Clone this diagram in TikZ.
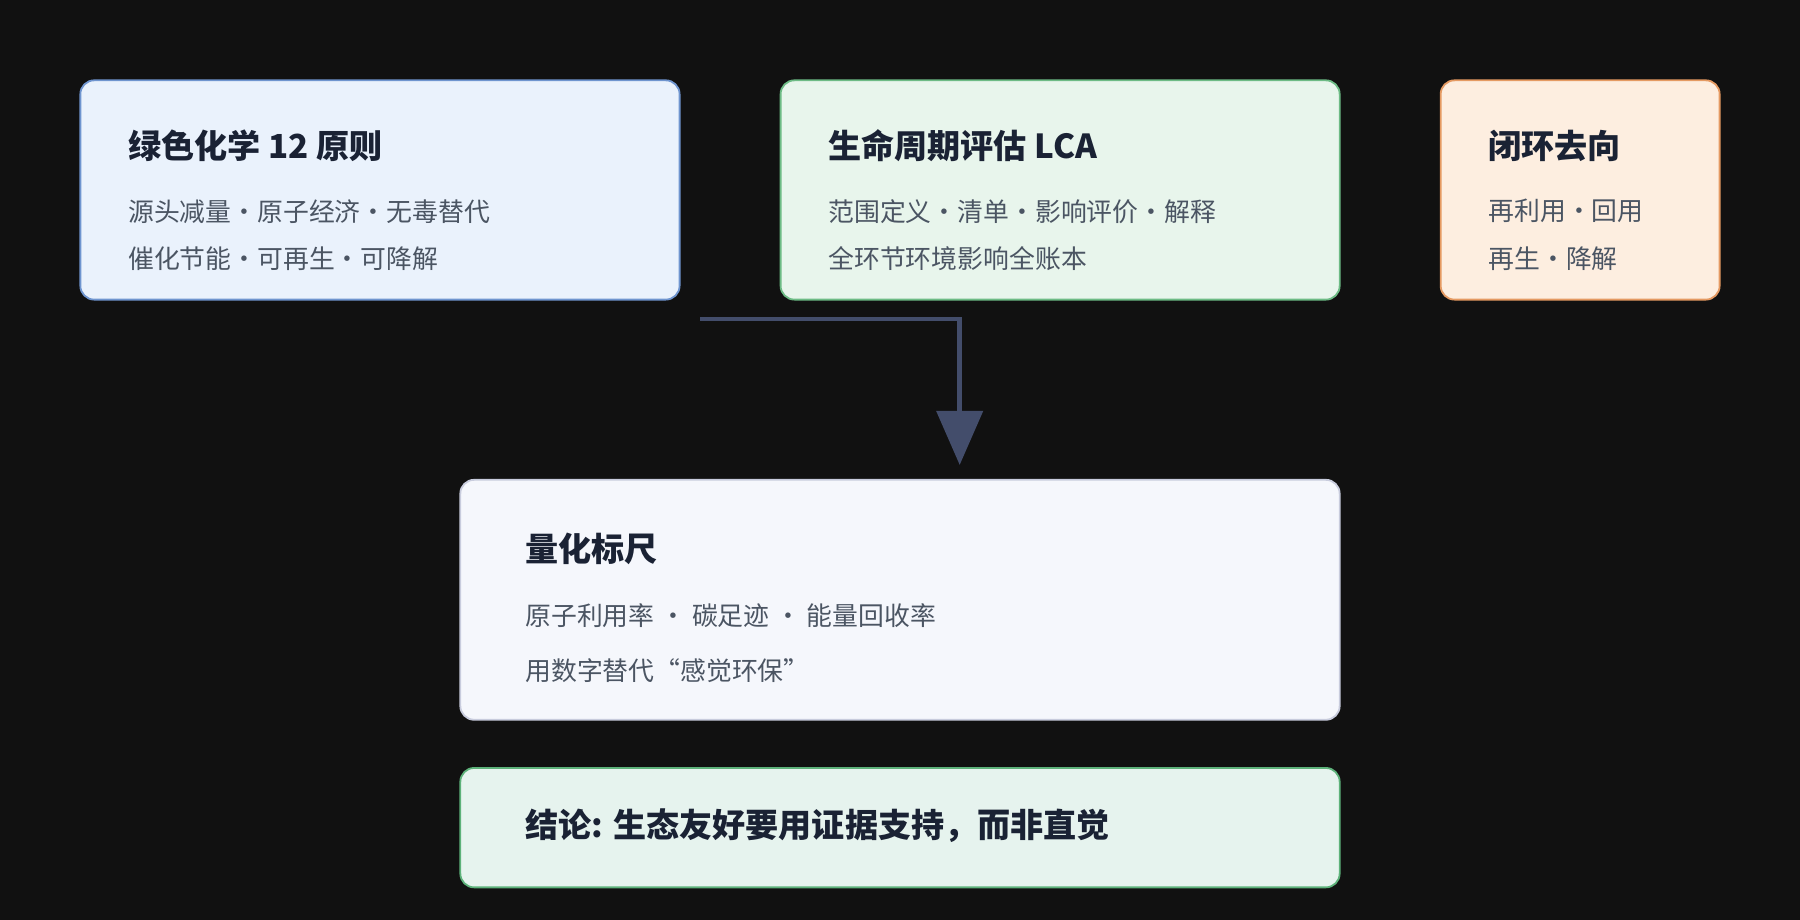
\documentclass[tikz,border=0pt]{standalone}
\usepackage{fontspec}
\setmainfont{Noto Sans CJK SC}
\usetikzlibrary{arrows.meta}
\definecolor{bgdark}{HTML}{111111}
\definecolor{titletext}{HTML}{1A2234}
\definecolor{bodytext}{HTML}{4B5563}
\definecolor{arrowcol}{HTML}{434D6B}
\definecolor{fillA}{HTML}{EAF2FC}\definecolor{lineA}{HTML}{6F95CF}
\definecolor{fillB}{HTML}{E8F5EC}\definecolor{lineB}{HTML}{6DBB85}
\definecolor{fillC}{HTML}{FDEEE0}\definecolor{lineC}{HTML}{E59A62}
\definecolor{fillD}{HTML}{F5F7FC}\definecolor{lineD}{HTML}{C8CCDD}
\definecolor{fillE}{HTML}{E6F3EE}\definecolor{lineE}{HTML}{5DB27A}

\tikzset{
    box/.style={line width=0.45pt,rounded corners=0.12cm},
    heading/.style={anchor=west,font=\fontsize{8.2pt}{9pt}\selectfont\bfseries,text=titletext,inner sep=0pt},
    body/.style={anchor=west,font=\fontsize{6.4pt}{7pt}\selectfont,text=bodytext,inner sep=0pt}
}

\begin{document}
\begin{tikzpicture}[x=0.01cm,y=-0.01cm]
    \fill[bgdark] (0,0) rectangle (1568,801);
    \useasboundingbox (0,0) rectangle (1568,801);

    % top row
    \draw[box,fill=fillA,draw=lineA] (70,70) rectangle (592,261);
    \node[heading] (chem) at (111,127) {绿色化学 12 原则};
    \node[body] (chem1) at (111,184) {源头减量·原子经济·无毒替代};
    \node[body] (chem2) at (111,225) {催化节能·可再生·可降解};

    \draw[box,fill=fillB,draw=lineB] (680,70) rectangle (1167,261);
    \node[heading] (lca) at (721,127) {生命周期评估 LCA};
    \node[body] (lca1) at (721,184) {范围定义·清单·影响评价·解释};
    \node[body] (lca2) at (721,225) {全环节环境影响全账本};

    \draw[box,fill=fillC,draw=lineC] (1255,70) rectangle (1498,261);
    \node[heading] (loop) at (1296,127) {闭环去向};
    \node[body] (loop1) at (1296,184) {再利用·回用};
    \node[body] (loop2) at (1296,225) {再生·降解};

    % metrics
    \draw[box,fill=fillD,draw=lineD] (401,418) rectangle (1167,627);
    \node[heading] (metric) at (457,478) {量化标尺};
    \node[body] (metric1) at (457,536) {原子利用率 · 碳足迹 · 能量回收率};
    \node[body] (metric2) at (457,584) {用数字替代“感觉环保”};

    % conclusion
    \draw[box,fill=fillE,draw=lineE] (401,669) rectangle (1167,773);
    \node[heading] (concl) at (457,719) {结论: 生态友好要用证据支持，而非直觉};

    \coordinate (start) at (610,278);
    \coordinate (tip) at (836,405);
    \draw[arrowcol,line width=1.1pt,-{Triangle[length=0.47cm,width=0.4cm]}] (start) -| (tip);
\end{tikzpicture}
\end{document}
